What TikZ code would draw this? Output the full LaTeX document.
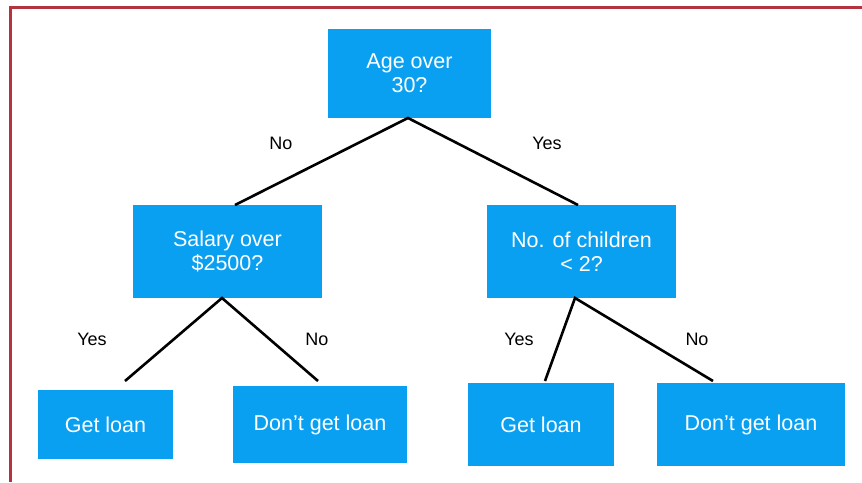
\documentclass[tikz,border=0pt]{standalone}
\usepackage{fontspec}
\setmainfont{Liberation Sans}
\definecolor{boxblue}{HTML}{0AA0F2}
\definecolor{frame}{HTML}{B3343E}
\begin{document}
\begin{tikzpicture}[x=1pt,y=-1pt,
  box/.style={fill=boxblue, draw=none, text=white, font=\fontsize{21.5}{24}\selectfont, align=center, inner sep=0pt},
  lab/.style={font=\fontsize{18}{21}\selectfont, text=black},
  edge/.style={draw=black, line width=2.6pt}]
\useasboundingbox (0,0) rectangle (862,482);
\fill[white] (0,0) rectangle (862,482);
\draw[frame, line width=3pt] (10.5,482) -- (10.5,7.5) -- (862,7.5);
% nodes
\node[box, minimum width=163pt, minimum height=89pt] (age) at (409.5,73.5) {Age over\\30?};
\node[box, minimum width=189pt, minimum height=93pt] (sal) at (227.5,251.5) {Salary over\\\$2500?};
\node[box, minimum width=189pt, minimum height=93pt] (kid) at (581.5,251.5) {No. of children\\{\char`\<} 2?};
\node[box, minimum width=135pt, minimum height=69pt] (g1) at (105.5,424.5) {Get loan};
\node[box, minimum width=174pt, minimum height=77pt] (d1) at (320,424.5) {Don't get loan};
\node[box, minimum width=146pt, minimum height=83pt] (g2) at (541,424.5) {Get loan};
\node[box, minimum width=188pt, minimum height=83pt] (d2) at (751,424.5) {Don't get loan};
% connector end points
\coordinate (a0) at (408,118);
\coordinate (aL) at (235,205);
\coordinate (aR) at (578,205);
\coordinate (s0) at (222,298);
\coordinate (sL) at (125,381);
\coordinate (sR) at (318,381);
\coordinate (k0) at (575,298);
\coordinate (kL) at (545,381);
\coordinate (kR) at (713,381);
\draw[edge] (aL) -- (a0) -- (aR);
\draw[edge] (sL) -- (s0) -- (sR);
\draw[edge] (kL) -- (k0) -- (kR);
% labels
\node[lab] (l1) at (281,143) {No};
\node[lab] (l2) at (547,143) {Yes};
\node[lab] (l3) at (92,339) {Yes};
\node[lab] (l4) at (317,339) {No};
\node[lab] (l5) at (519,339) {Yes};
\node[lab] (l6) at (697,339) {No};
\end{tikzpicture}
\end{document}
